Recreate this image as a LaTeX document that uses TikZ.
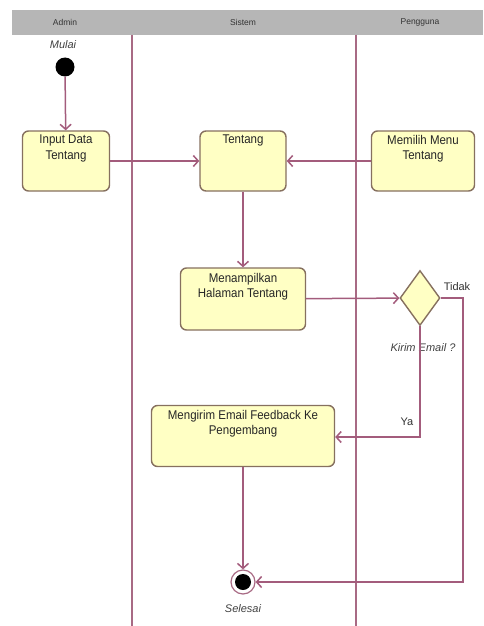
\documentclass[tikz,border=0pt]{standalone}
\usepackage{fontspec}
\setmainfont{Liberation Sans}
\usetikzlibrary{arrows.meta,shapes.geometric}
\definecolor{actfill}{HTML}{FFFFC4}
\definecolor{actdraw}{HTML}{86705F}
\definecolor{flow}{HTML}{A35C7C}
\definecolor{lane}{HTML}{A86A84}
\definecolor{head}{HTML}{B6B6B6}
\begin{document}
\begin{tikzpicture}[
  x=1pt, y=-1pt,
  act/.style={draw=actdraw, line width=1.4pt, fill=actfill, rounded corners=6pt},
  acttext/.style={anchor=north, align=center, font=\fontsize{11.5}{14}\selectfont, text=black!85, inner sep=0pt, yscale=1.1},
  lbl/.style={font=\fontsize{11}{12}\selectfont\itshape, text=black!75, inner sep=0pt},
  headtext/.style={font=\fontsize{8.5}{10}\selectfont, text=black!80},
  flow edge/.style={draw=flow, line width=1.5pt, -{Straight Barb[length=5pt,width=11pt]}}
]
\useasboundingbox (0,0) rectangle (483,626);
% Define the lanes
\fill[head] (12,10) rectangle (483,35);
\node[headtext] (hadmin) at (65,22) {Admin};
\node[headtext] (hsistem) at (243,22) {Sistem};
\node[headtext] (hpengguna) at (420,22) {Pengguna};
\draw[lane, line width=1.2pt] (132,35) -- (132,626);
\draw[lane, line width=1.2pt] (356,35) -- (356,626);
% Define the nodes
\node[circle, fill=black, minimum size=19pt, inner sep=0pt] (start) at (65,67) {};
\node[lbl] (mulai) at (63,45) {Mulai};
\node[act, minimum width=87pt, minimum height=60pt] (input) at (66,161) {};
\node[acttext] (inputt) at (66,135) {Input Data\\Tentang};
\node[act, minimum width=86pt, minimum height=60pt] (tentang) at (243,161) {};
\node[acttext] (tentangt) at (243,135) {Tentang};
\node[act, minimum width=103pt, minimum height=60pt] (memilih) at (423,161) {};
\node[acttext] (memiliht) at (423,135) {Memilih Menu\\Tentang};
\node[act, minimum width=125pt, minimum height=62pt] (tampil) at (243,299) {};
\node[acttext] (tampilt) at (243,273) {Menampilkan\\Halaman Tentang};
\node[diamond, draw=actdraw, line width=1.4pt, fill=actfill, minimum width=40pt, minimum height=55pt, inner sep=0pt] (kirim) at (420,298) {};
\node[lbl] (kirimt) at (423,348) {Kirim Email ?};
\node[lbl, font=\fontsize{11}{12}\selectfont, text=black!80] (tidak) at (457,287) {Tidak};
\node[lbl, font=\fontsize{11}{12}\selectfont, text=black!80] (ya) at (407,422) {Ya};
\node[act, minimum width=183pt, minimum height=61pt] (kirimfb) at (243,436) {};
\node[acttext] (kirimfbt) at (243,410) {Mengirim Email Feedback Ke\\Pengembang};
\node[circle, draw=lane, line width=1.2pt, fill=white, minimum size=24pt, inner sep=0pt] (end) at (243,582) {};
\node[circle, fill=black, minimum size=16pt, inner sep=0pt] (endin) at (243,582) {};
\node[lbl] (selesai) at (243,609) {Selesai};
\coordinate (tidakturn) at (463,298);
\coordinate (yaturn) at (420,437);
% Define the edges
\path[flow edge] (start) -- (input);
\path[flow edge] (input) -- (tentang);
\path[flow edge] (memilih) -- (tentang);
\path[flow edge] (tentang) -- (tampil);
\path[flow edge] (tampil) -- (kirim);
\path[flow edge] (kirim.south) |- (kirimfb.east |- yaturn);
\path[flow edge] (kirim.east) -- (tidakturn) |- (end);
\path[flow edge] (kirimfb) -- (end);
\end{tikzpicture}
\end{document}
